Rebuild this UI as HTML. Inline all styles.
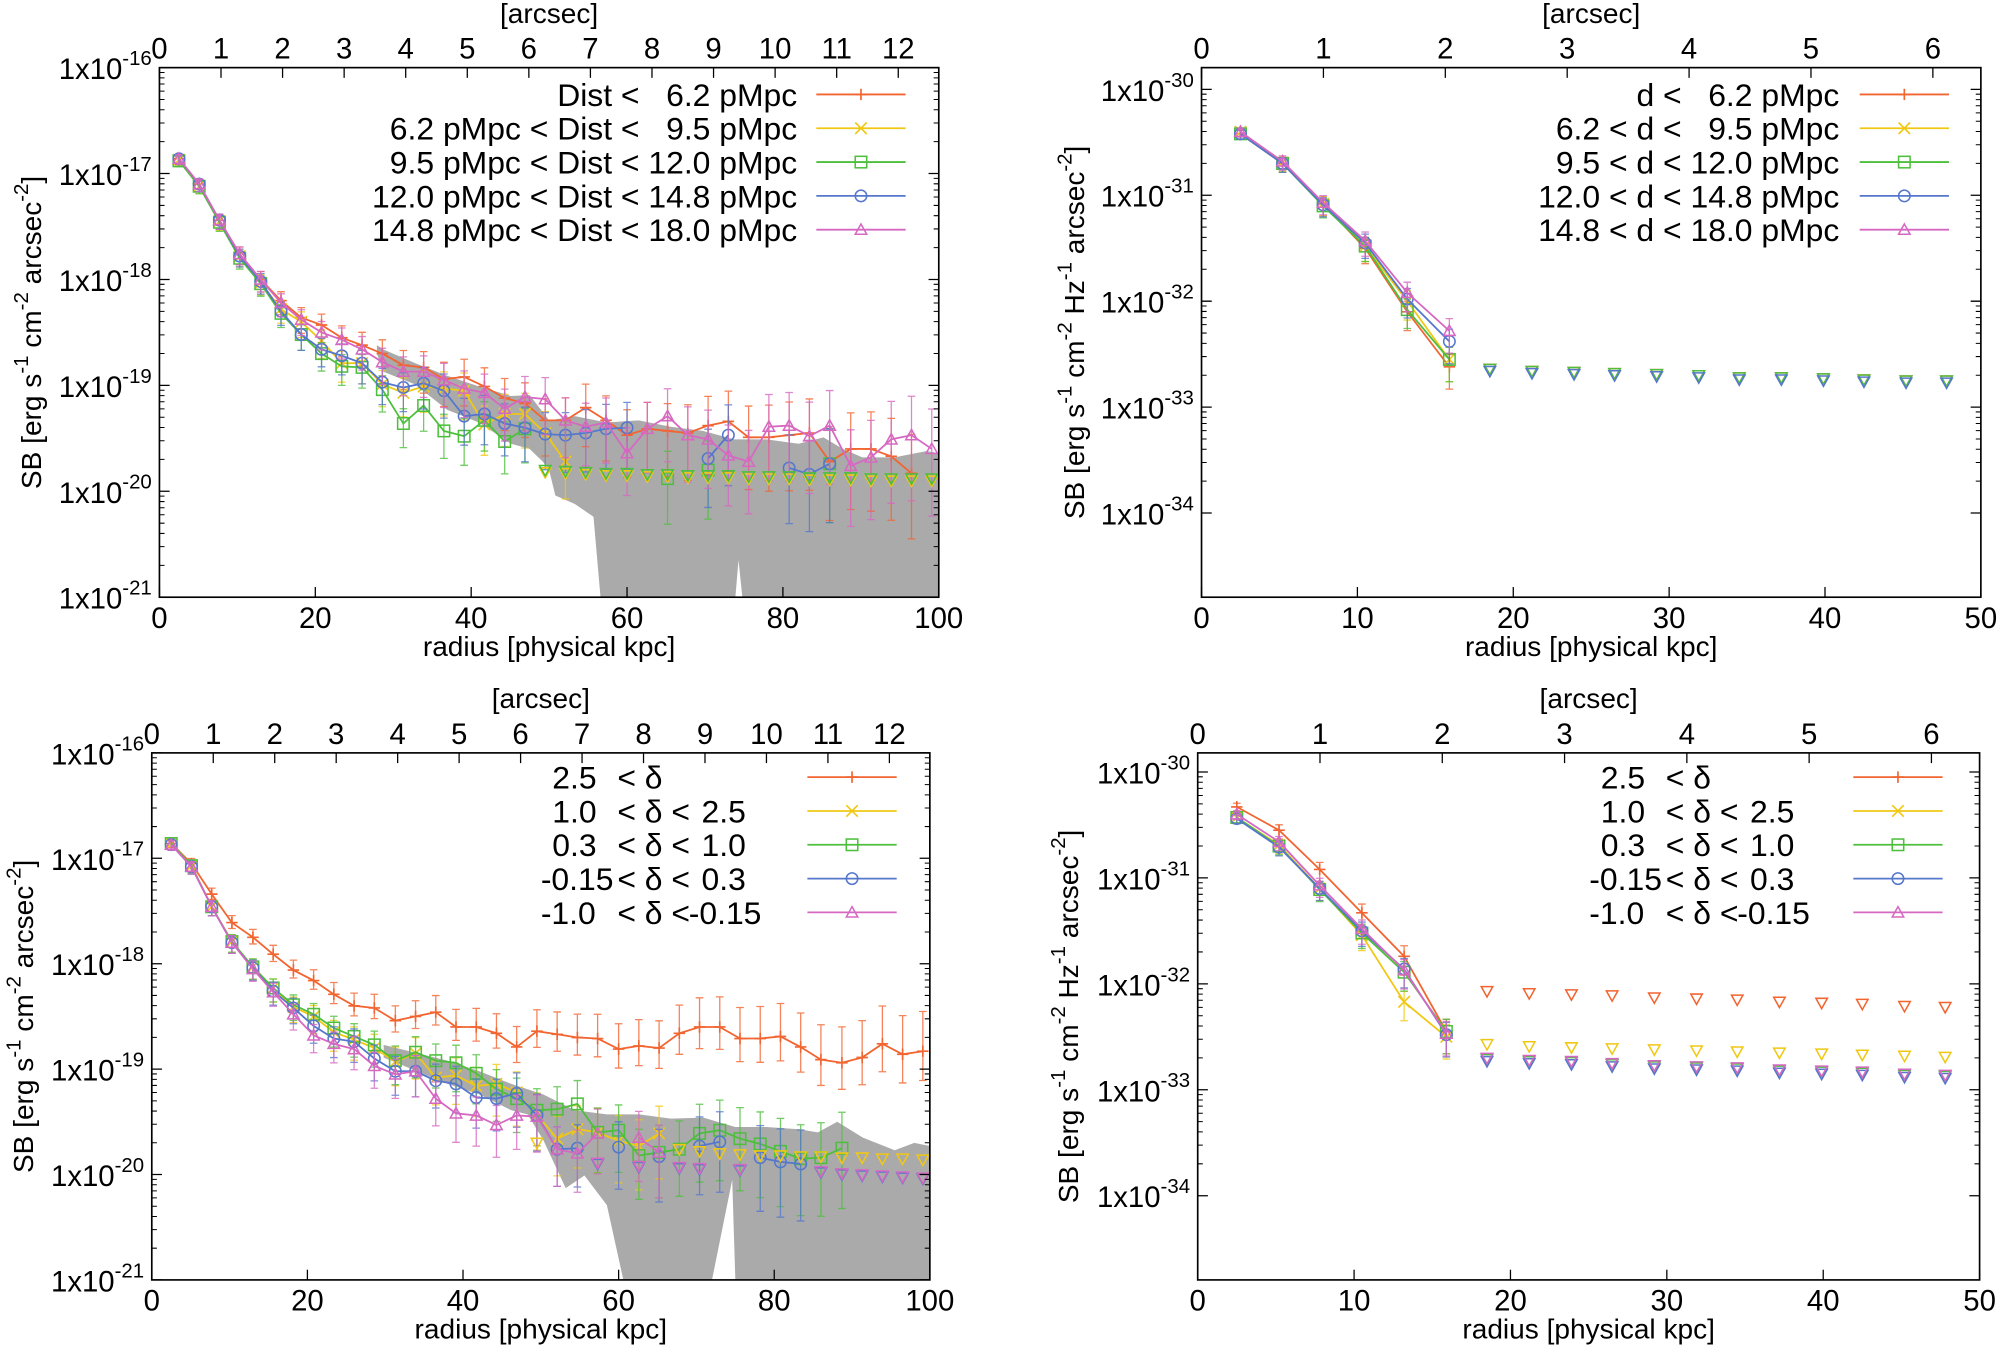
<!DOCTYPE html>
<html><head><meta charset="utf-8"><style>
html,body{margin:0;padding:0;background:#fff;}
svg{display:block;font-family:"Liberation Sans",sans-serif;}
text{white-space:pre;}
</style></head><body>
<svg id="chart" width="2000" height="1345" viewBox="0 0 1568 1054" preserveAspectRatio="none" xmlns="http://www.w3.org/2000/svg"></svg>
<script>
// ---------- data (log10 SB) ----------
const radiiWide = [2.5,5.1,7.7,10.3,13,15.6,18.2,20.8,23.4,26,28.6,31.3,33.9,36.5,39.1,41.7,44.3,46.9,49.5,52.1,54.7,57.3,60,62.6,65.2,67.8,70.4,73,75.6,78.2,80.8,83.4,86,88.7,91.3,93.9,96.5,99.1];
const radiiNarrow = [2.5,5.2,7.8,10.5,13.2,15.9,18.5,21.2,23.9,26.5,29.2,31.9,34.5,37.2,39.9,42.5,45.2,47.8];

// top-left: distance bins
const tlRed = [-16.86,-17.10,-17.44,-17.76,-18.00,-18.20,-18.36,-18.43,-18.55,-18.62,-18.70,-18.81,-18.83,-18.94,-18.92,-19.01,-19.12,-19.17,-19.33,-19.33,-19.21,-19.33,-19.47,-19.41,-19.43,-19.45,-19.38,-19.34,-19.49,-19.49,-19.47,-19.45,-19.72,-19.60,-19.60,-19.67,-19.83,null];
const tlYellow = [-16.87,-17.12,-17.45,-17.78,-18.03,-18.28,-18.40,-18.58,-18.79,-18.79,-18.99,-19.07,-19.01,-19.03,-19.05,-19.37,-19.27,-19.27,-19.45,-19.72,null,null,null,null,null,null,null,null,null,null,null,null,null,null,null,null,null,null];
const tlGreen = [-16.88,-17.12,-17.46,-17.80,-18.04,-18.32,-18.52,-18.70,-18.82,-18.83,-19.04,-19.36,-19.19,-19.43,-19.48,-19.33,-19.53,-19.41,null,null,null,null,null,null,-19.88,null,-19.80,null,null,null,null,null,-19.74,null,null,null,null,null];
const tlBlue = [-16.86,-17.10,-17.44,-17.78,-18.02,-18.30,-18.52,-18.66,-18.72,-18.79,-18.97,-19.02,-18.98,-19.05,-19.29,-19.27,-19.36,-19.40,-19.46,-19.47,-19.45,-19.41,-19.40,null,null,null,-19.69,-19.47,null,null,-19.78,-19.84,-19.74,null,null,null,null,null];
const tlMagenta = [-16.86,-17.10,-17.44,-17.76,-18.00,-18.22,-18.38,-18.50,-18.57,-18.66,-18.78,-18.87,-18.87,-18.95,-19.03,-19.07,-19.22,-19.11,-19.13,-19.33,-19.39,-19.35,-19.64,-19.41,-19.29,-19.47,-19.51,-19.66,-19.72,-19.39,-19.38,-19.48,-19.38,-19.76,-19.68,-19.51,-19.47,-19.60];
const tlLimits = [null,null,null,null,null,null,null,null,null,null,null,null,null,null,null,null,null,null,-19.82,-19.83,-19.84,-19.85,-19.85,-19.86,-19.86,-19.87,-19.87,-19.87,-19.88,-19.88,-19.88,-19.89,-19.89,-19.89,-19.90,-19.90,-19.90,-19.90];
const tlBandR = [27.9,28.7,32.8,36.9,41,45.1,47.5,50,53.3,57.4,61.5,65.6,69.7,73.8,77.9,82,85.2,87.7,90.2,94.3,98.4,100];
const tlBandHi = [-18.62,-18.66,-18.79,-18.91,-19.01,-19.10,-19.09,-19.33,-19.29,-19.35,-19.33,-19.39,-19.43,-19.51,-19.51,-19.55,-19.49,-19.60,-19.68,-19.68,-19.62,-19.64];
const tlBandLoR = [27.9,28.7,32.8,36.9,41,45.1,47.5,49.2,50,50.8,53.3,55.7,56.6,100];
const tlBandLo = [-18.70,-18.87,-18.99,-19.23,-19.35,-19.55,-19.60,-19.72,-19.80,-20.04,-20.12,-20.24,-21,-21];
const tlGap = [73.9,74.3,74.8];
const tlGapTop = -20.65;

// top-right: distance bins, specific intensity
const trRed = [-30.42,-30.70,-31.08,-31.50,-32.10,-32.62];
const trYellow = [-30.40,-30.69,-31.08,-31.48,-32.00,-32.55];
const trGreen = [-30.42,-30.70,-31.10,-31.48,-32.08,-32.55];
const trBlue = [-30.42,-30.70,-31.09,-31.45,-31.98,-32.38];
const trMagenta = [-30.40,-30.68,-31.07,-31.43,-31.92,-32.28];
const trLimits = [null,null,null,null,null,null,-32.64,-32.66,-32.67,-32.68,-32.69,-32.70,-32.72,-32.72,-32.73,-32.74,-32.75,-32.75];

// bottom-left: overdensity bins
const blRed = [-16.86,-17.05,-17.34,-17.61,-17.75,-17.91,-18.06,-18.16,-18.29,-18.40,-18.42,-18.54,-18.50,-18.46,-18.60,-18.60,-18.66,-18.79,-18.64,-18.67,-18.70,-18.71,-18.81,-18.78,-18.80,-18.66,-18.60,-18.60,-18.71,-18.71,-18.69,-18.79,-18.91,-18.94,-18.89,-18.76,-18.86,-18.83];
const blYellow = [-16.86,-17.07,-17.46,-17.79,-18.03,-18.23,-18.41,-18.50,-18.65,-18.72,-18.80,-18.93,-18.85,-19.08,-19.06,-19.16,-19.14,-19.22,-19.43,-19.66,-19.57,-19.60,-19.68,-19.73,-19.61,null,null,null,null,null,null,null,null,null,null,null,null,null];
const blGreen = [-16.86,-17.07,-17.46,-17.79,-18.03,-18.23,-18.39,-18.48,-18.61,-18.69,-18.77,-18.92,-18.84,-18.92,-18.94,-19.04,-19.19,-19.28,-19.39,-19.38,-19.33,-19.60,-19.58,-19.82,-19.79,-19.76,-19.61,-19.58,-19.66,-19.71,-19.78,-19.85,-19.84,-19.75,null,null,null,null];
const blBlue = [-16.87,-17.08,-17.46,-17.80,-18.04,-18.26,-18.42,-18.59,-18.71,-18.74,-18.90,-19.02,-19.02,-19.11,-19.14,-19.27,-19.28,-19.23,-19.44,-19.76,-19.75,null,-19.74,null,-19.83,null,-19.73,-19.69,null,-19.84,-19.88,-19.90,null,null,null,null,null,null];
const blMagenta = [-16.87,-17.08,-17.46,-17.80,-18.05,-18.27,-18.48,-18.68,-18.76,-18.81,-18.97,-19.05,-19.02,-19.28,-19.42,-19.44,-19.53,-19.44,-19.45,-19.76,-19.80,-19.61,null,-19.65,-19.79,null,null,null,null,null,null,null,null,null,null,null,null,null];
const blYellowLimits = [null,null,null,null,null,null,null,null,null,null,null,null,null,null,null,null,null,null,-19.70,null,null,null,null,null,null,-19.76,-19.78,-19.80,-19.81,-19.82,-19.82,-19.83,-19.83,-19.84,-19.84,-19.85,-19.85,-19.86];
const blLimits = [null,null,null,null,null,null,null,null,null,null,null,null,null,null,null,null,null,null,null,null,null,-19.90,null,-19.93,null,-19.94,-19.95,null,-19.96,null,null,null,-19.98,-20.00,-20.01,-20.02,-20.03,-20.04];
const blBandR = [29.8,38,42.1,46.2,50.3,54.4,58.5,62.6,66.7,70.9,75,79,83.2,85.6,88.1,91.4,95.5,98,100];
const blBandHi = [-18.77,-18.92,-19.02,-19.14,-19.24,-19.39,-19.43,-19.43,-19.47,-19.46,-19.55,-19.55,-19.57,-19.60,-19.50,-19.65,-19.77,-19.70,-19.73];
const blBandLoR = [29.8,38,42.1,46.2,48.3,50.3,53.2,55.6,58.5,60.6,100];
const blBandLo = [-18.89,-19.14,-19.24,-19.39,-19.43,-19.67,-20.13,-20.01,-20.29,-21,-21];
const blGap = [72.0,74.6,75.0];
const blGapTop = -20.05;

// bottom-right: overdensity bins, specific intensity
const brRed = [-30.33,-30.55,-30.92,-31.33,-31.74,-32.45];
const brYellow = [-30.43,-30.69,-31.10,-31.54,-32.17,-32.50];
const brGreen = [-30.43,-30.70,-31.11,-31.52,-31.89,-32.45];
const brBlue = [-30.44,-30.71,-31.10,-31.50,-31.86,-32.48];
const brMagenta = [-30.40,-30.66,-31.07,-31.48,-31.87,-32.47];
const brRedLimits = [null,null,null,null,null,null,-32.07,-32.09,-32.10,-32.11,-32.13,-32.14,-32.15,-32.17,-32.18,-32.19,-32.21,-32.22];
const brYellowLimits = [null,null,null,null,null,null,-32.57,-32.59,-32.60,-32.61,-32.62,-32.63,-32.64,-32.65,-32.66,-32.67,-32.68,-32.69];
const brLimits = [null,null,null,null,null,null,-32.71,-32.73,-32.74,-32.76,-32.78,-32.79,-32.80,-32.82,-32.83,-32.84,-32.86,-32.87];

// ---------- drawing ----------
const NS = "http://www.w3.org/2000/svg";
const svg = document.getElementById("chart");
const COL = {red:"#f26430", yellow:"#f0c814", green:"#4dbf3c", blue:"#5577cc", magenta:"#d668c2"};
function mk(tag, attrs, parent){const e=document.createElementNS(NS,tag);for(const k in attrs)e.setAttribute(k,attrs[k]);(parent||svg).appendChild(e);return e;}

function makeScales(p){
  p.sx = x => p.x0 + (x - p.xmin)/(p.xmax - p.xmin)*(p.x1 - p.x0);
  p.sy = l => p.y0 + (p.ytop - l)/(p.ytop - p.ybot)*(p.y1 - p.y0);
}

function marker(g, type, x, y, c){
  const s=4.5;
  if(type==="plus"){mk("path",{d:`M${x-s} ${y}H${x+s}M${x} ${y-s}V${y+s}`,stroke:c,"stroke-width":1.3,fill:"none"},g);}
  else if(type==="cross"){mk("path",{d:`M${x-s} ${y-s}L${x+s} ${y+s}M${x-s} ${y+s}L${x+s} ${y-s}`,stroke:c,"stroke-width":1.3,fill:"none"},g);}
  else if(type==="square"){mk("rect",{x:x-s,y:y-s,width:2*s,height:2*s,stroke:c,"stroke-width":1.2,fill:"none"},g);}
  else if(type==="circle"){mk("circle",{cx:x,cy:y,r:s,stroke:c,"stroke-width":1.2,fill:"none"},g);}
  else if(type==="tri"){mk("path",{d:`M${x} ${y-s}L${x+s} ${y+s*0.8}L${x-s} ${y+s*0.8}Z`,stroke:c,"stroke-width":1.2,fill:"none"},g);}
  else if(type==="down"){mk("path",{d:`M${x-s} ${y-s*0.8}L${x+s} ${y-s*0.8}L${x} ${y+s}Z`,stroke:c,"stroke-width":1.2,fill:"none"},g);}
}

function drawSeries(p, name, radii, vals, color, type, errUp, errDn){
  const g = mk("g",{"clip-path":`url(#${p.id}-clip)`});
  
  
  let d="", pen=false;
  vals.forEach((v,i)=>{
    if(v===null||v===undefined){pen=false;return;}
    const x=p.sx(radii[i]), y=p.sy(v);
    d += (pen?"L":"M")+x.toFixed(1)+" "+y.toFixed(1);
    pen=true;
  });
  mk("path",{d:d,stroke:color,"stroke-width":1.4,fill:"none"},g);
  vals.forEach((v,i)=>{
    if(v===null||v===undefined)return;
    const x=p.sx(radii[i]);
    const eu=errUp(radii[i]), ed=errDn(radii[i]);
    const ya=p.sy(v+eu), yb=p.sy(v-ed);
    mk("path",{d:`M${x} ${ya}V${yb}M${x-3} ${ya}H${x+3}M${x-3} ${yb}H${x+3}`,stroke:color,"stroke-width":1,fill:"none","stroke-opacity":0.8},g);
    marker(g,type,x,p.sy(v),color);
  });
}

function drawLimits(p, name, radii, vals, color){
  const g = mk("g",{"clip-path":`url(#${p.id}-clip)`});
  
  
  vals.forEach((v,i)=>{ if(v===null)return; marker(g,"down",p.sx(radii[i]),p.sy(v),color); });
}

function drawBand(p, hr, hi, lr, lo, gap, gapTop){
  let pts = [];
  hr.forEach((r,i)=>pts.push(p.sx(r).toFixed(1)+","+p.sy(hi[i]).toFixed(1)));
  for(let i=lr.length-1;i>=0;i--) pts.push(p.sx(lr[i]).toFixed(1)+","+p.sy(Math.max(lo[i],p.ybot)).toFixed(1));
  const band = mk("polygon",{points:pts.join(" "),fill:"#aaaaaa","clip-path":`url(#${p.id}-clip)`});
  
  
  const gp = [p.sx(gap[0])+","+p.sy(p.ybot), p.sx(gap[1])+","+p.sy(gapTop), p.sx(gap[2])+","+p.sy(p.ybot)];
  const w = mk("polygon",{points:gp.join(" "),fill:"#ffffff"});
  
  
}

function drawAxes(p){
  const g = mk("g",{});
  
  
  for(let e=Math.ceil(p.ybot); e<=Math.floor(p.ytop)+0.001; e++){
    const y=p.sy(e);
    if(y>=p.y0-0.5 && y<=p.y1+0.5){
      mk("path",{d:`M${p.x0} ${y}h8M${p.x1} ${y}h-8`,stroke:"#000","stroke-width":1},g);
      const t = mk("text",{x:p.x0-6,y:y+9,"text-anchor":"end","font-size":23},g);
      
      
      t.textContent="1x10";
      const s = mk("tspan",{dy:-11,"font-size":16},t); s.textContent=String(e);
    }
    for(let k=2;k<=9;k++){
      const ym=p.sy(e+Math.log10(k));
      if(ym>=p.y0 && ym<=p.y1) mk("path",{d:`M${p.x0} ${ym}h4M${p.x1} ${ym}h-4`,stroke:"#000","stroke-width":0.8},g);
    }
  }
  for(let v=p.xmin; v<=p.xmax+0.001; v+=p.xstep){
    const x=p.sx(v);
    mk("path",{d:`M${x} ${p.y1}v-8`,stroke:"#000","stroke-width":1},g);
    const t=mk("text",{x:x,y:p.y1+24,"text-anchor":"middle","font-size":23},g);
    
    
    t.textContent=String(v);
  }
  for(let a=0; a<=p.amax; a++){
    const x=p.sx(a*p.kpa);
    mk("path",{d:`M${x} ${p.y0}v8`,stroke:"#000","stroke-width":1},g);
    const t=mk("text",{x:x,y:p.y0-7,"text-anchor":"middle","font-size":23},g);
    
    
    t.textContent=String(a);
  }
  mk("rect",{x:p.x0,y:p.y0,width:p.x1-p.x0,height:p.y1-p.y0,fill:"none",stroke:"#000","stroke-width":1.3},g);
  const xc=(p.x0+p.x1)/2;
  const tt=mk("text",{x:xc,y:p.y0-35,"text-anchor":"middle","font-size":22},g);
  
  
  tt.textContent="[arcsec]";
  const xt=mk("text",{x:xc,y:p.y1+46,"text-anchor":"middle","font-size":22},g);
  
  
  xt.textContent="radius [physical kpc]";
  const yc=(p.y0+p.y1)/2;
  const yt=mk("text",{x:0,y:0,"text-anchor":"middle","font-size":22,transform:`translate(${p.ytx},${yc}) rotate(-90)`},g);
  
  
  const parts = p.hz ? [["SB [erg s",0],["-1",1],[" cm",0],["-2",1],[" Hz",0],["-1",1],[" arcsec",0],["-2",1],["]",0]]
                     : [["SB [erg s",0],["-1",1],[" cm",0],["-2",1],[" arcsec",0],["-2",1],["]",0]];
  let up=false;
  parts.forEach(([s,sup])=>{
    const ts=mk("tspan",{"font-size":sup?16:22},yt);
    if(sup&&!up){ts.setAttribute("dy",-10);up=true;}
    else if(!sup&&up){ts.setAttribute("dy",10);up=false;}
    ts.textContent=s;
  });
}

function drawLegend(p, entries){
  const g = mk("g",{});
  
  
  entries.forEach((en,i)=>{
    const y=p.ly0 + i*26.5;
    const eg = mk("g",{},g);
    
    
    if(en.cols){
      en.cols.forEach((c,j)=>{
        const t=mk("text",{x:p.lcols[j]+(en.off?en.off[j]:0),y:y+9,"font-size":25},eg);
        t.textContent=c;
      });
    } else {
      const t=mk("text",{x:p.ltx,y:y+9,"text-anchor":"end","font-size":25},eg);
      t.textContent=en.label;
    }
    mk("path",{d:`M${p.lx0} ${y}H${p.lx1}`,stroke:en.color,"stroke-width":1.4},eg);
    marker(eg,en.type,(p.lx0+p.lx1)/2,y,en.color);
  });
}

const defs = mk("defs",{});
function setupPanel(p){
  makeScales(p);
  const cp = mk("clipPath",{id:p.id+"-clip"},defs);
  mk("rect",{x:p.x0,y:p.y0,width:p.x1-p.x0,height:p.y1-p.y0},cp);
}

const errWideUp = r => 0.03 + 0.0035*r;
const errWideDn = r => 0.04 + 0.006*r;
const errNarUp = r => 0.02 + 0.006*r;
const errNarDn = r => 0.02 + 0.012*r;

const TL={id:"top-left",x0:125,x1:736,y0:53,y1:468,xmin:0,xmax:100,xstep:20,ytop:-16,ybot:-21,amax:12,kpa:7.9,ytx:32,hz:false,
  ltx:625,lx0:640,lx1:710,ly0:74};
const TR={id:"top-right",x0:942,x1:1553,y0:53,y1:468,xmin:0,xmax:50,xstep:10,ytop:-29.795,ybot:-34.795,amax:6,kpa:7.82,ytx:850,hz:true,
  ltx:1442,lx0:1458,lx1:1528,ly0:74};
const BL={id:"bottom-left",x0:119,x1:729,y0:590,y1:1003,xmin:0,xmax:100,xstep:20,ytop:-16,ybot:-21,amax:12,kpa:7.9,ytx:26,hz:false,
  lcols:[433,484,550],lx0:633,lx1:703,ly0:609};
const BR={id:"bottom-right",x0:939,x1:1552,y0:590,y1:1003,xmin:0,xmax:50,xstep:10,ytop:-29.82,ybot:-34.795,amax:6,kpa:7.82,ytx:845,hz:true,
  lcols:[1255,1306,1372],lx0:1453,lx1:1523,ly0:609};
[TL,TR,BL,BR].forEach(setupPanel);

const deltaLegend = [
  {cols:["2.5","< δ",""],color:COL.red,type:"plus"},
  {cols:["1.0","< δ <","2.5"],color:COL.yellow,type:"cross"},
  {cols:["0.3","< δ <","1.0"],color:COL.green,type:"square"},
  {cols:["-0.15","< δ <","0.3"],off:[-9,0,0],color:COL.blue,type:"circle"},
  {cols:["-1.0","< δ <","-0.15"],off:[-9,0,-10],color:COL.magenta,type:"tri"}];

// Top-left
drawBand(TL, tlBandR, tlBandHi, tlBandLoR, tlBandLo, tlGap, tlGapTop);
drawSeries(TL,"dist-lt-6.2",radiiWide,tlRed,COL.red,"plus",errWideUp,errWideDn);
drawSeries(TL,"dist-6.2-9.5",radiiWide,tlYellow,COL.yellow,"cross",errWideUp,errWideDn);
drawSeries(TL,"dist-9.5-12.0",radiiWide,tlGreen,COL.green,"square",errWideUp,errWideDn);
drawSeries(TL,"dist-12.0-14.8",radiiWide,tlBlue,COL.blue,"circle",errWideUp,errWideDn);
drawSeries(TL,"dist-14.8-18.0",radiiWide,tlMagenta,COL.magenta,"tri",errWideUp,errWideDn);
drawLimits(TL,"yellow",radiiWide,tlLimits,COL.yellow);
drawLimits(TL,"green",radiiWide,tlLimits.map(v=>v===null?null:v+0.02),COL.green);
drawAxes(TL);
drawLegend(TL,[
  {label:"Dist <   6.2 pMpc",color:COL.red,type:"plus"},
  {label:"6.2 pMpc < Dist <   9.5 pMpc",color:COL.yellow,type:"cross"},
  {label:"9.5 pMpc < Dist < 12.0 pMpc",color:COL.green,type:"square"},
  {label:"12.0 pMpc < Dist < 14.8 pMpc",color:COL.blue,type:"circle"},
  {label:"14.8 pMpc < Dist < 18.0 pMpc",color:COL.magenta,type:"tri"}]);

// Top-right
drawSeries(TR,"d-lt-6.2",radiiNarrow,trRed,COL.red,"plus",errNarUp,errNarDn);
drawSeries(TR,"d-6.2-9.5",radiiNarrow,trYellow,COL.yellow,"cross",errNarUp,errNarDn);
drawSeries(TR,"d-9.5-12.0",radiiNarrow,trGreen,COL.green,"square",errNarUp,errNarDn);
drawSeries(TR,"d-12.0-14.8",radiiNarrow,trBlue,COL.blue,"circle",errNarUp,errNarDn);
drawSeries(TR,"d-14.8-18.0",radiiNarrow,trMagenta,COL.magenta,"tri",errNarUp,errNarDn);
drawLimits(TR,"red",radiiNarrow,trLimits,COL.red);
drawLimits(TR,"green",radiiNarrow,trLimits,COL.green);
drawLimits(TR,"blue",radiiNarrow,trLimits.map(v=>v===null?null:v-0.02),COL.blue);
drawAxes(TR);
drawLegend(TR,[
  {label:"d <   6.2 pMpc",color:COL.red,type:"plus"},
  {label:"6.2 < d <   9.5 pMpc",color:COL.yellow,type:"cross"},
  {label:"9.5 < d < 12.0 pMpc",color:COL.green,type:"square"},
  {label:"12.0 < d < 14.8 pMpc",color:COL.blue,type:"circle"},
  {label:"14.8 < d < 18.0 pMpc",color:COL.magenta,type:"tri"}]);

// Bottom-left
drawBand(BL, blBandR, blBandHi, blBandLoR, blBandLo, blGap, blGapTop);
drawSeries(BL,"delta-gt-2.5",radiiWide,blRed,COL.red,"plus",errWideUp,r=>0.03+0.0025*r);
drawSeries(BL,"delta-1.0-2.5",radiiWide,blYellow,COL.yellow,"cross",errWideUp,errWideDn);
drawSeries(BL,"delta-0.3-1.0",radiiWide,blGreen,COL.green,"square",errWideUp,errWideDn);
drawSeries(BL,"delta-m0.15-0.3",radiiWide,blBlue,COL.blue,"circle",errWideUp,errWideDn);
drawSeries(BL,"delta-m1.0-m0.15",radiiWide,blMagenta,COL.magenta,"tri",errWideUp,errWideDn);
drawLimits(BL,"yellow",radiiWide,blYellowLimits,COL.yellow);
drawLimits(BL,"blue",radiiWide,blLimits,COL.blue);
drawLimits(BL,"magenta",radiiWide,blLimits.map(v=>v===null?null:v+0.01),COL.magenta);
drawAxes(BL);
drawLegend(BL,deltaLegend);

// Bottom-right
drawSeries(BR,"delta-gt-2.5",radiiNarrow,brRed,COL.red,"plus",errNarUp,errNarDn);
drawSeries(BR,"delta-1.0-2.5",radiiNarrow,brYellow,COL.yellow,"cross",errNarUp,errNarDn);
drawSeries(BR,"delta-0.3-1.0",radiiNarrow,brGreen,COL.green,"square",errNarUp,errNarDn);
drawSeries(BR,"delta-m0.15-0.3",radiiNarrow,brBlue,COL.blue,"circle",errNarUp,errNarDn);
drawSeries(BR,"delta-m1.0-m0.15",radiiNarrow,brMagenta,COL.magenta,"tri",errNarUp,errNarDn);
drawLimits(BR,"red",radiiNarrow,brRedLimits,COL.red);
drawLimits(BR,"yellow",radiiNarrow,brYellowLimits,COL.yellow);
drawLimits(BR,"green",radiiNarrow,brLimits,COL.green);
drawLimits(BR,"blue",radiiNarrow,brLimits.map(v=>v===null?null:v-0.02),COL.blue);
drawLimits(BR,"magenta",radiiNarrow,brLimits.map(v=>v===null?null:v+0.01),COL.magenta);
drawAxes(BR);
drawLegend(BR,deltaLegend);
</script>
</body></html>
